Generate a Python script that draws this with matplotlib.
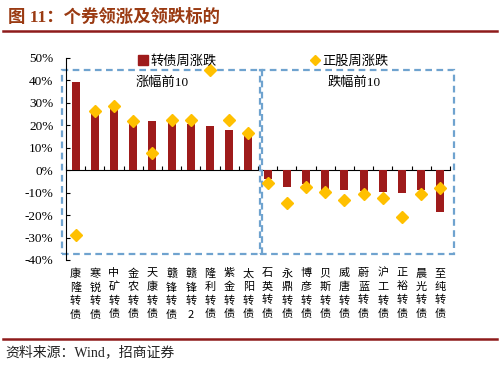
import numpy as np
import matplotlib.pyplot as plt
from matplotlib.patches import Rectangle
from matplotlib.lines import Line2D

plt.rcParams['font.family'] = ['Liberation Serif', 'Noto Sans CJK SC']

# data (weekly change, %)
names = ['康隆转债', '寒锐转债', '中矿转债', '金农转债', '天康转债',
         '赣锋转债', '赣锋转2', '隆利转债', '紫金转债', '太阳转债',
         '石英转债', '永鼎转债', '博彦转债', '贝斯转债', '威唐转债',
         '蔚蓝转债', '沪工转债', '正裕转债', '晨光转债', '至纯转债']
cb_change = [39.2, 25.3, 27.1, 20.8, 21.8, 21.5, 20.8, 19.6, 18.1, 15.5,
             -4.1, -7.5, -6.3, -8.6, -9.0, -9.4, -9.7, -10.1, -9.0, -18.4]
stock_change = [-29.0, 26.4, 28.6, 22.0, 7.7, 22.2, 22.2, 44.5, 22.2, 16.7,
                -5.6, -14.8, -7.4, -9.7, -13.3, -10.7, -12.5, -20.7, -10.4, -7.9]
yticks = [50, 40, 30, 20, 10, 0, -10, -20, -30, -40]
group_labels = ['涨幅前10', '跌幅前10']

bar_color = '#9E1B1B'
dia_color = '#FFC000'
box_color = '#6FA3CF'
serif_cjk = ['Liberation Serif', 'Noto Sans CJK SC']

fig = plt.figure(figsize=(5, 3.7), dpi=100)
ax = fig.add_axes([66 / 500, 1 - 260 / 370, 384 / 500, 202 / 370])

x = np.arange(len(names))
ax.bar(x, cb_change, width=0.42, color=bar_color, zorder=2)
ax.plot(x, stock_change, linestyle='none', marker='D', markersize=6.5,
        color=dia_color, zorder=3)

ax.set_xlim(-0.5, len(names) - 0.5)
ax.set_ylim(-40, 50)
ax.set_yticks(yticks)
ax.set_yticklabels([f'{v}%' for v in yticks], fontsize=9.5)
ax.tick_params(axis='y', direction='in', length=3, width=0.8, pad=9)
ax.set_xticks(x)
ax.set_xticklabels(['\n'.join(n) for n in names], fontsize=8,
                   family=['Noto Sans CJK SC'], linespacing=1.4)
ax.tick_params(axis='x', length=0, pad=6)
for s in ['top', 'right', 'bottom']:
    ax.spines[s].set_visible(False)
ax.spines['left'].set_linewidth(0.8)

# zero line with ticks at category boundaries
zero = ax.secondary_xaxis(40 / 90)
zero.set_xticks(np.arange(len(names) + 1) - 0.5)
zero.set_xticklabels([])
zero.tick_params(direction='in', length=3, width=0.8)
zero.spines['bottom'].set_linewidth(0.8)

# dashed group boxes
n_half = len(names) // 2
for i, lab in enumerate(group_labels):
    x0 = i * n_half - 0.72 + (0.3 if i else 0)
    w = n_half + 0.42 - (0.3 if i else 0)
    ax.add_patch(Rectangle((x0, -37.5), w, 82.2, fill=False, ec=box_color,
                           ls=(0, (3, 2)), lw=1.6, clip_on=False, zorder=1))
    ax.text(i * n_half + (n_half - 1) / 2, 39, lab, ha='center', va='center',
            fontsize=9.5, family=serif_cjk)

handles = [Line2D([], [], ls='none', marker='s', color=bar_color, markersize=6.5),
           Line2D([], [], ls='none', marker='D', color=dia_color, markersize=5.5)]
ax.legend(handles, ['转债周涨跌', '正股周涨跌'], ncol=2, frameon=False,
          loc='center', bbox_to_anchor=(0.512, 0.985), handletextpad=0.05,
          handlelength=1.0, columnspacing=7.0,
          prop={'family': 'Noto Sans CJK SC', 'size': 9.5})

# title and source
fig.text(8 / 500, 1 - 17 / 370, '图 11：个券领涨及领跌标的', ha='left', va='center',
         fontsize=12.5, fontweight='bold', color='#9A3A12', family=serif_cjk)
fig.add_artist(Line2D([3 / 500, 497 / 500], [1 - 31 / 370, 1 - 31 / 370],
                      color='#8E1B1B', lw=1.8))
fig.add_artist(Line2D([3 / 500, 497 / 500], [1 - 339 / 370, 1 - 339 / 370],
                      color='#8E1B1B', lw=1.8))
fig.text(5 / 500, 1 - 352 / 370, '资料来源：Wind，招商证券', ha='left', va='center',
         fontsize=10, color='#222222', family=serif_cjk)

fig.savefig('out.png', dpi=100)
